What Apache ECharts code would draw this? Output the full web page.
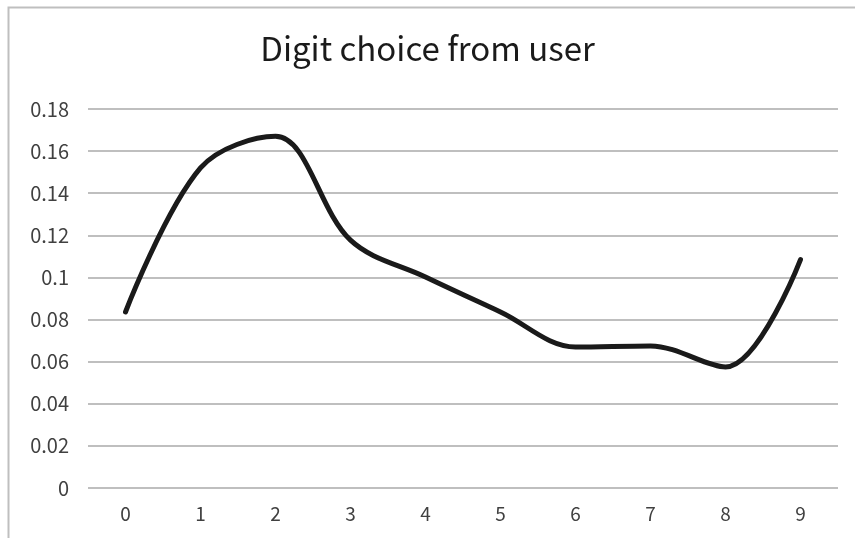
<!DOCTYPE html>
<html>
<head>
<meta charset="utf-8">
<script src="https://cdn.jsdelivr.net/npm/echarts@6/dist/echarts.min.js"></script>
<style>
  html, body { margin: 0; padding: 0; background: #fff; }
  #chart { width: 855px; height: 538px; }
</style>
</head>
<body>
<div id="chart"></div>
<script>
// Digits offered as choices and the share of users picking each one
const digits = ['0', '1', '2', '3', '4', '5', '6', '7', '8', '9'];
const shares = [0.0836, 0.152, 0.167, 0.1177, 0.1002, 0.0836, 0.067, 0.0675, 0.0575, 0.1085];
const titleText = 'Digit choice from user';

const FONT = '"Noto Sans CJK SC", "Noto Sans", sans-serif';

const chart = echarts.init(document.getElementById('chart'), null, { renderer: 'canvas' });
chart.setOption({
  backgroundColor: '#ffffff',
  animation: false,
  title: {
    text: titleText,
    left: 'center',
    top: 27,
    textStyle: { fontFamily: FONT, fontSize: 33, fontWeight: 'normal', color: '#1a1a1a' }
  },
  graphic: [{
    type: 'rect',
    shape: { x: 8.5, y: 7.5, width: 900, height: 600 },
    style: { fill: 'none', stroke: '#bfbfbf', lineWidth: 2 },
    silent: true
  }],
  grid: { left: 88, right: 17, top: 109, bottom: 50, containLabel: false },
  xAxis: {
    type: 'category',
    data: digits,
    boundaryGap: true,
    axisLine: { show: false },
    axisTick: { show: false },
    axisLabel: { fontFamily: FONT, fontSize: 19, color: '#404040', margin: 16 }
  },
  yAxis: {
    type: 'value',
    min: 0,
    max: 0.18,
    interval: 0.02,
    axisLine: { show: false },
    axisTick: { show: false },
    splitLine: { lineStyle: { color: '#bfbfbf', width: 2 } },
    axisLabel: {
      fontFamily: FONT, fontSize: 20, color: '#404040', margin: 19,
      formatter: v => String(Math.round(v * 100) / 100)
    }
  },
  series: [{
    type: 'line',
    data: shares,
    smooth: 0.35,
    symbol: 'none',
    lineStyle: { color: '#1a1a1a', width: 5, cap: 'round', join: 'round' }
  }]
});
</script>
</body>
</html>
